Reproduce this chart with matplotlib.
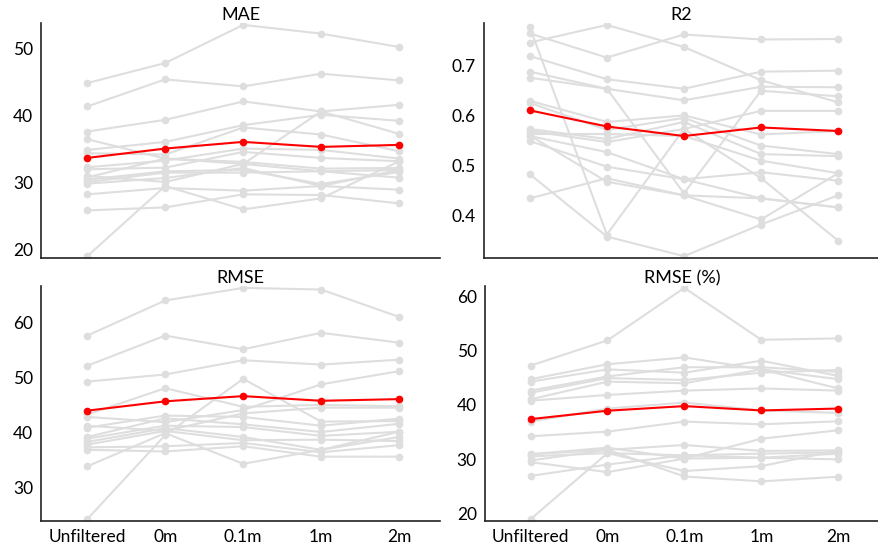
"""Per-site error metrics across filtering thresholds."""
import matplotlib
matplotlib.use("Agg")
import matplotlib.pyplot as plt
import numpy as np

plt.rcParams.update({"font.family": ["Lato", "DejaVu Sans"], "font.size": 12,
                     "axes.spines.top": False, "axes.spines.right": False})

GREY = "#dedede"
RED = "#ff0000"

labels = ["Unfiltered", "0m", "0.1m", "1m", "2m"]

# one row per site
mae = [
    [44.9, 47.9, 53.6, 52.3, 50.3],
    [41.4, 45.45, 44.4, 46.3, 45.3],
    [37.65, 39.4, 42.15, 40.65, 41.65],
    [36.5, 33.6, 32.8, 31.7, 31.9],
    [34.9, 36.1, 38.6, 40.15, 39.25],
    [34.4, 34.2, 38.25, 37.2, 34.7],
    [32.3, 33.3, 35.1, 34.9, 33.6],
    [32.0, 32.25, 34.6, 33.7, 33.2],
    [30.8, 33.6, 33.1, 32.1, 32.2],
    [30.45, 31.7, 31.9, 29.8, 31.6],
    [30.1, 31.5, 31.5, 31.7, 30.75],
    [29.85, 30.7, 32.2, 29.5, 31.9],
    [28.25, 29.2, 28.8, 29.5, 28.95],
    [25.85, 26.3, 28.25, 28.15, 26.9],
    [19.0, 29.5, 26.0, 27.65, 33.2],
    [31.0, 30.1, 32.8, 40.65, 37.3],
]
mae_mean = [33.7, 35.1, 36.1, 35.35, 35.65]

r2 = [
    [0.745, 0.780, 0.736, 0.670, 0.626],
    [0.763, 0.715, 0.761, 0.751, 0.752],
    [0.775, 0.363, 0.573, 0.609, 0.609],
    [0.718, 0.672, 0.653, 0.687, 0.689],
    [0.687, 0.653, 0.630, 0.657, 0.656],
    [0.675, 0.653, 0.445, 0.649, 0.638],
    [0.629, 0.587, 0.600, 0.562, 0.569],
    [0.625, 0.571, 0.595, 0.540, 0.523],
    [0.573, 0.553, 0.587, 0.523, 0.519],
    [0.569, 0.547, 0.573, 0.475, 0.351],
    [0.563, 0.563, 0.559, 0.510, 0.485],
    [0.559, 0.527, 0.473, 0.487, 0.470],
    [0.549, 0.498, 0.473, 0.435, 0.417],
    [0.483, 0.359, 0.320, 0.383, 0.441],
    [0.435, 0.475, 0.441, 0.393, 0.485],
    [0.560, 0.468, 0.441, 0.435, 0.417],
]
r2_mean = [0.610, 0.578, 0.559, 0.576, 0.569]

rmse = [
    [57.7, 64.1, 66.4, 66.1, 61.1],
    [52.2, 57.7, 55.2, 58.2, 56.4],
    [49.3, 50.6, 53.2, 52.4, 53.3],
    [43.3, 48.1, 44.7, 45.05, 44.8],
    [24.2, 39.55, 49.8, 42.0, 42.1],
    [42.85, 41.9, 44.1, 48.8, 51.2],
    [41.25, 40.3, 43.5, 44.55, 44.55],
    [40.9, 43.1, 42.85, 41.25, 42.55],
    [39.2, 42.6, 41.5, 40.1, 41.6],
    [38.9, 41.25, 41.0, 39.4, 40.15],
    [38.3, 40.8, 39.2, 36.85, 39.2],
    [37.8, 40.3, 38.6, 38.7, 38.45],
    [37.3, 37.5, 38.1, 36.4, 37.7],
    [36.85, 36.55, 37.5, 35.6, 35.6],
    [33.85, 39.9, 34.3, 36.85, 40.15],
]
rmse_mean = [44.0, 45.7, 46.65, 45.8, 46.1]

rmse_pct = [
    [47.2, 51.85, 61.5, 51.95, 52.2],
    [44.7, 47.45, 48.7, 46.5, 43.0],
    [44.25, 46.5, 45.9, 48.1, 45.3],
    [42.6, 45.2, 46.9, 46.9, 46.05],
    [42.2, 44.9, 44.55, 45.9, 46.4],
    [41.0, 44.25, 43.95, 46.5, 44.7],
    [40.75, 41.8, 42.6, 43.0, 42.6],
    [36.9, 39.3, 40.4, 38.95, 38.5],
    [34.2, 35.05, 36.9, 36.4, 36.95],
    [30.9, 32.1, 30.1, 33.75, 35.3],
    [29.75, 31.7, 32.6, 31.5, 31.6],
    [30.5, 31.1, 30.7, 31.0, 31.25],
    [26.9, 29.0, 30.7, 30.25, 29.95],
    [18.95, 31.1, 27.8, 28.7, 31.6],
    [29.45, 27.6, 30.1, 30.25, 31.0],
    [30.9, 31.7, 26.8, 25.9, 26.75],
]
rmse_pct_mean = [37.35, 38.9, 39.75, 38.95, 39.3]

panels = [("MAE", mae, mae_mean, [20, 30, 40, 50]),
          ("R2", r2, r2_mean, [0.4, 0.5, 0.6, 0.7]),
          ("RMSE", rmse, rmse_mean, [30, 40, 50, 60]),
          ("RMSE (%)", rmse_pct, rmse_pct_mean, [20, 30, 40, 50, 60])]

fig = plt.figure(figsize=(8.79, 5.49), dpi=100)
boxes = [(0.047, 0.530, 0.454, 0.428), (0.551, 0.530, 0.449, 0.428),
         (0.047, 0.051, 0.454, 0.428), (0.552, 0.051, 0.448, 0.428)]
x = np.arange(len(labels))

for i, ((title, rows, mean, yt), box) in enumerate(zip(panels, boxes)):
    ax = fig.add_axes(box)
    for r in rows:
        ax.plot(x, r, "-o", color=GREY, lw=1.5, ms=4.5, zorder=1)
    ax.plot(x, mean, "-o", color=RED, lw=1.5, ms=4.5, zorder=3)
    vals = np.concatenate([np.ravel(rows), mean])
    lo, hi = vals.min(), vals.max()
    pad = (hi - lo) * 0.008
    ax.set_ylim(lo - pad, hi + pad)
    ax.set_xlim(-0.59, 4.53)
    ax.set_yticks(yt)
    ax.set_xticks(x)
    if i >= 2:
        ax.set_xticklabels(labels)
    else:
        ax.set_xticklabels([])
    ax.tick_params(length=0, labelsize=12.5, pad=6)
    ax.set_title(title, fontsize=13, pad=2)
    for s in ("left", "bottom"):
        ax.spines[s].set_color("#222222")
        ax.spines[s].set_linewidth(1.2)

fig.savefig("out.png", dpi=100)
